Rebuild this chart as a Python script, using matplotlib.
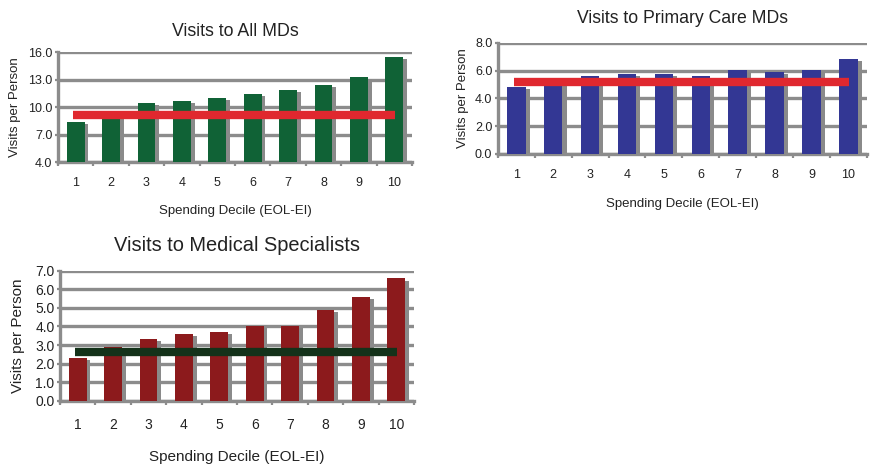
import numpy as np
import matplotlib
matplotlib.use("Agg")
import matplotlib.pyplot as plt

plt.rcParams["font.family"] = ["Liberation Sans", "DejaVu Sans"]

deciles = [1, 2, 3, 4, 5, 6, 7, 8, 9, 10]

all_md = [8.4, 9.6, 10.5, 10.7, 11.0, 11.45, 11.9, 12.4, 13.3, 15.5]
all_md_avg = 9.1

primary = [4.8, 5.0, 5.6, 5.75, 5.75, 5.6, 6.05, 5.9, 6.05, 6.83]
primary_avg = 5.18

specialist = [2.3, 2.9, 3.32, 3.6, 3.7, 4.02, 4.02, 4.88, 5.6, 6.6]
specialist_avg = 2.62

GRID = "#8c8c8c"
TEXT = "#222222"


def draw_panel(ax, values, avg, ymin, ymax, step, bar_color, line_color, title,
               title_size, title_pad, tick_size, label_size, xpad, xlabelpad,
               ylabelpad):
    x = np.array(deciles)
    vals = np.array(values)
    span = ymax - ymin
    levels = np.arange(ymin, ymax + step / 2, step)
    for y in levels:
        ax.axhline(y, color=GRID, lw=2.4, zorder=1)
    # grey drop shadow behind each bar
    ax.bar(x + 0.11, vals - 0.018 * span - ymin, bottom=ymin, width=0.5,
           color="#8a8a8a", zorder=2)
    ax.bar(x, vals - ymin, bottom=ymin, width=0.5, color=bar_color, zorder=3)
    ax.plot([0.93, 10.03], [avg, avg], color=line_color, lw=6,
            solid_capstyle="butt", zorder=4)

    ax.set_xlim(0.5, 10.5)
    ax.set_ylim(ymin, ymax)
    ax.set_yticks(levels)
    ax.set_yticklabels([f"{v:.1f}" for v in levels], fontsize=tick_size, color=TEXT)
    ax.set_xticks(np.arange(0.5, 11, 1))
    ax.set_xticklabels([])
    ax.set_xticks(x, minor=True)
    ax.set_xticklabels([str(d) for d in deciles], minor=True, fontsize=tick_size,
                       color=TEXT)
    ax.tick_params(axis="x", which="minor", length=0, pad=xpad)
    ax.tick_params(axis="x", which="major", length=3, width=1.6, color=GRID,
                   direction="out")
    ax.tick_params(axis="y", length=2.5, width=1.6, color=GRID, pad=1.5)
    for side in ["top", "right"]:
        ax.spines[side].set_visible(False)
    for side in ["left", "bottom"]:
        ax.spines[side].set_color(GRID)
        ax.spines[side].set_linewidth(2.4)
    ax.set_title(title, fontsize=title_size, color=TEXT, pad=title_pad)
    ax.set_ylabel("Visits per Person", fontsize=label_size, color=TEXT,
                  labelpad=ylabelpad)
    ax.set_xlabel("Spending Decile (EOL-EI)", fontsize=label_size, color=TEXT,
                  labelpad=xlabelpad)


fig = plt.figure(figsize=(8.72, 4.66), dpi=100)

ax1 = fig.add_axes([0.0665, 0.652, 0.406, 0.236])
draw_panel(ax1, all_md, all_md_avg, 4.0, 16.0, 3.0, "#106236", "#e0282f",
           "Visits to All MDs", 12.8, 11.5, 9, 9.5, 10.5, 12, 5)

ax2 = fig.add_axes([0.571, 0.670, 0.423, 0.238])
draw_panel(ax2, primary, primary_avg, 0.0, 8.0, 2.0, "#333794", "#e0282f",
           "Visits to Primary Care MDs", 12.7, 14, 9, 9.5, 11, 12, 4)

ax3 = fig.add_axes([0.0688, 0.140, 0.406, 0.279])
draw_panel(ax3, specialist, specialist_avg, 0.0, 7.0, 1.0, "#8c1a1c", "#14321a",
           "Visits to Medical Specialists", 14.4, 14, 10, 11, 12.5, 13, 7)

fig.savefig("out.png", dpi=100)
